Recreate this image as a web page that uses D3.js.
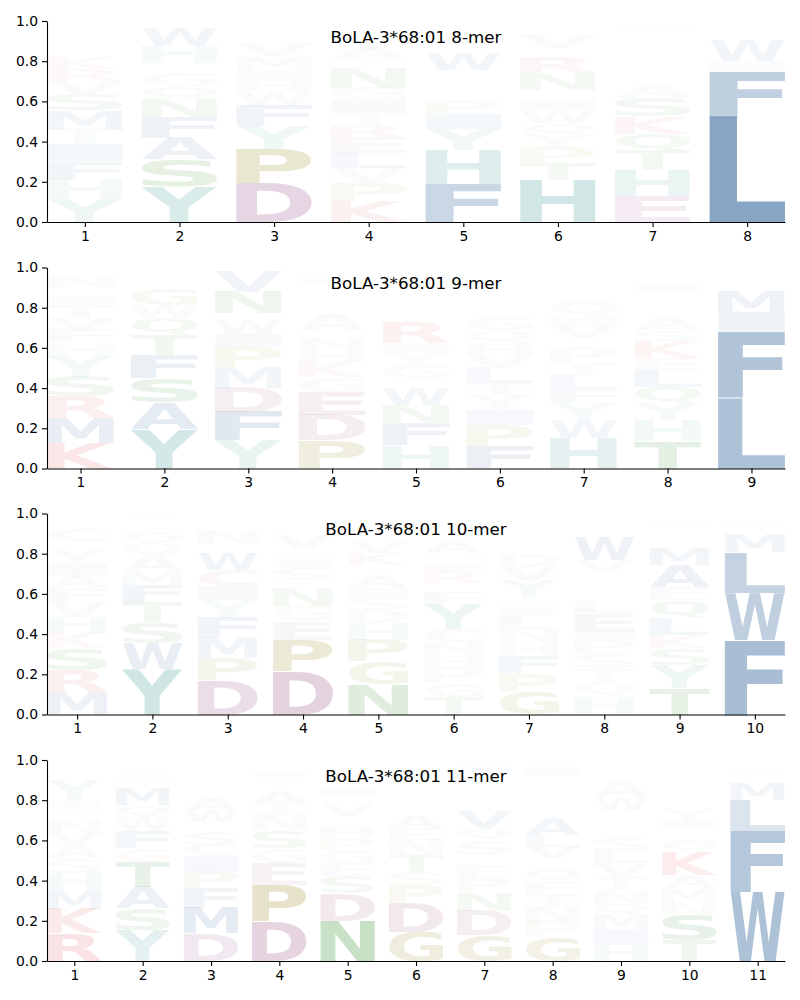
<!DOCTYPE html>
<html><head><meta charset="utf-8">
<script src="https://cdn.jsdelivr.net/npm/d3@7"></script>
<style>body{margin:0;background:#fff} svg{display:block}</style>
</head><body>
<svg id="chart" width="800" height="1000"></svg>
<script>
// ---------------- DATA ----------------
const titles = ["BoLA-3*68:01 8-mer","BoLA-3*68:01 9-mer","BoLA-3*68:01 10-mer","BoLA-3*68:01 11-mer"];
const yTicks = [0, 0.2, 0.4, 0.6, 0.8, 1.0];

// each position: letters from bottom to top with probability
const logo8 = [
 [["Y",.116],["H",.095],["F",.091],["I",.086],["T",.075],["M",.091],["S",.083],["V",.066],["R",.058],["K",.058],["A",.041],["W",.03],["E",.025],["N",.025],["Q",.02],["L",.02],["G",.012],["D",.01]],
 [["Y",.177],["S",.133],["A",.108],["F",.104],["N",.09],["Q",.063],["G",.066],["T",.05],["H",.09],["W",.083],["E",.015],["V",.012],["K",.01]],
 [["D",.194],["P",.169],["Y",.113],["F",.103],["W",.071],["H",.058],["I",.05],["M",.066],["V",.066],["L",.03],["A",.025],["N",.02],["E",.015],["S",.012],["T",.01]],
 [["K",.103],["P",.091],["V",.075],["L",.075],["E",.075],["R",.066],["T",.061],["I",.063],["G",.058],["N",.095],["D",.05],["A",.055],["Q",.03],["S",.03],["H",.025],["M",.02],["F",.016],["Y",.015]],
 [["F",.19],["H",.166],["Y",.106],["I",.076],["P",.07],["V",.05],["G",.05],["N",.05],["W",.083],["K",.03],["E",.03],["L",.025],["T",.02],["S",.02],["A",.018],["D",.018]],
 [["H",.207],["T",.086],["P",.08],["Y",.061],["Q",.058],["W",.066],["I",.053],["L",.046],["N",.083],["R",.075],["F",.05],["V",.066],["E",.02],["A",.015],["S",.015],["G",.02]],
 [["E",.128],["H",.129],["T",.095],["Q",.088],["K",.086],["S",.091],["A",.066],["V",.05],["R",.05],["L",.04],["W",.035],["N",.03],["M",.03],["G",.025],["D",.02],["I",.02],["P",.017]],
 [["L",.522],["F",.227],["I",.05],["W",.1],["M",.03],["V",.02],["Y",.015],["H",.01],["A",.01]]
];
const logo9 = [
 [["K",.128],["M",.121],["R",.108],["S",.1],["Y",.1],["H",.071],["F",.061],["V",.058],["T",.058],["I",.05],["A",.05],["N",.058],["W",.015],["Q",.012],["E",.01]],
 [["Y",.196],["A",.131],["S",.121],["F",.116],["T",.1],["Q",.083],["W",.066],["G",.083],["N",.042],["M",.02],["H",.015],["E",.015],["V",.012]],
 [["Y",.141],["F",.141],["D",.12],["M",.1],["P",.1],["I",.071],["W",.066],["L",.033],["N",.108],["V",.1],["T",.01],["H",.01]],
 [["P",.14],["D",.126],["E",.116],["G",.075],["K",.075],["H",.058],["N",.058],["T",.042],["A",.075],["Q",.05],["S",.04],["L",.035],["V",.03],["I",.025],["F",.02],["R",.02],["W",.017]],
 [["H",.116],["F",.108],["N",.091],["W",.083],["V",.05],["G",.066],["Y",.058],["I",.05],["R",.1],["T",.05],["A",.04],["K",.04],["L",.035],["E",.035],["S",.03],["Q",.025],["M",.023]],
 [["F",.113],["P",.103],["I",.075],["Y",.075],["T",.058],["L",.075],["V",.066],["H",.058],["Q",.066],["G",.066],["S",.045],["W",.04],["N",.04],["E",.035],["A",.03],["M",.03],["R",.025]],
 [["H",.153],["W",.088],["Y",.083],["F",.066],["L",.075],["T",.058],["P",.075],["E",.05],["V",.058],["I",.05],["Q",.075],["G",.04],["S",.035],["M",.035],["N",.03],["A",.03]],
 [["T",.136],["H",.105],["Y",.083],["Q",.083],["L",.083],["E",.058],["K",.086],["S",.055],["A",.066],["V",.045],["R",.04],["N",.04],["I",.035],["F",.03],["W",.03],["M",.025]],
 [["L",.35],["F",.325],["I",.105],["M",.105],["W",.05],["Y",.02],["V",.015],["A",.01],["H",.01]]
];
const logo10 = [
 [["M",.113],["R",.108],["S",.108],["K",.078],["H",.08],["V",.075],["F",.066],["A",.066],["I",.058],["Y",.066],["T",.042],["C",.058],["N",.025],["Q",.02],["L",.02],["E",.018]],
 [["Y",.225],["W",.13],["S",.103],["T",.096],["F",.091],["M",.066],["A",.075],["Q",.07],["G",.055],["N",.025],["E",.02],["H",.02],["V",.015],["I",.012]],
 [["D",.171],["P",.108],["M",.1],["F",.1],["Y",.091],["I",.07],["C",.08],["W",.083],["L",.05],["N",.066],["A",.03],["S",.02],["T",.018],["V",.015]],
 [["D",.213],["P",.158],["E",.091],["G",.078],["N",.088],["Q",.042],["S",.058],["I",.05],["T",.05],["V",.066],["H",.03],["A",.025],["L",.025],["K",.02]],
 [["N",.15],["G",.113],["P",.108],["H",.083],["D",.066],["S",.058],["I",.05],["A",.066],["T",.05],["K",.058],["V",.058],["E",.035],["Q",.03],["Y",.03],["L",.025],["F",.022]],
 [["T",.088],["G",.066],["P",.075],["H",.066],["N",.066],["C",.066],["Y",.125],["F",.058],["L",.042],["R",.058],["I",.042],["Q",.05],["A",.066],["S",.035],["E",.03],["V",.025],["D",.025],["W",.018]],
 [["G",.113],["P",.091],["F",.086],["H",.071],["N",.066],["L",.066],["I",.042],["Q",.05],["Y",.083],["V",.066],["D",.066],["E",.04],["S",.04],["A",.035],["C",.03],["T",.03],["M",.025]],
 [["H",.088],["Q",.075],["T",.066],["S",.075],["P",.066],["I",.042],["E",.091],["L",.058],["F",.05],["N",.05],["D",.05],["V",.058],["W",.116],["M",.03],["Y",.03],["A",.03],["K",.027]],
 [["T",.13],["Y",.116],["S",.083],["K",.066],["L",.083],["Q",.09],["E",.066],["A",.108],["M",.083],["V",.04],["F",.035],["H",.03],["I",.03],["N",.02],["R",.02]],
 [["F",.37],["W",.233],["L",.203],["M",.091],["Y",.033],["I",.02],["V",.015],["A",.01],["H",.01]]
];
const logo11 = [
 [["R",.138],["K",.12],["M",.091],["H",.088],["S",.075],["A",.066],["V",.066],["N",.058],["F",.05],["I",.042],["Y",.1],["T",.03],["L",.025],["W",.02],["E",.018],["Q",.015]],
 [["Y",.154],["S",.108],["A",.108],["T",.124],["G",.066],["F",.083],["W",.075],["Q",.058],["M",.083],["H",.035],["I",.03],["N",.03],["V",.025],["E",.021]],
 [["D",.138],["M",.128],["F",.096],["P",.083],["I",.075],["C",.058],["S",.066],["Y",.05],["W",.058],["A",.058],["V",.04],["L",.04],["T",.035],["N",.03],["H",.025],["E",.02]],
 [["D",.196],["P",.183],["E",.108],["G",.075],["S",.09],["N",.075],["T",.058],["A",.058],["Q",.035],["V",.035],["I",.03],["L",.03],["H",.027]],
 [["N",.2],["D",.135],["S",.086],["E",.066],["G",.066],["P",.058],["H",.058],["T",.05],["V",.058],["A",.05],["I",.04],["Q",.035],["K",.035],["L",.035],["Y",.029]],
 [["G",.146],["D",.141],["P",.091],["S",.066],["T",.083],["N",.075],["E",.058],["A",.058],["V",.05],["Q",.045],["K",.045],["H",.04],["I",.035],["Y",.035],["L",.032]],
 [["G",.13],["D",.121],["N",.091],["P",.07],["E",.066],["A",.05],["S",.075],["Q",.058],["V",.083],["K",.05],["C",.033],["T",.04],["L",.035],["H",.035],["I",.035],["Y",.03]],
 [["G",.121],["P",.075],["N",.075],["T",.058],["E",.066],["Q",.066],["Y",.05],["V",.058],["L",.058],["A",.083],["C",.045],["D",.045],["S",.045],["K",.04],["W",.04],["I",.04],["M",.035]],
 [["H",.08],["I",.075],["M",.075],["Q",.058],["N",.066],["T",.066],["V",.066],["L",.058],["S",.066],["C",.041],["E",.05],["G",.05],["W",.066],["A",.075],["Y",.03],["F",.03],["D",.025],["R",.023]],
 [["T",.104],["S",.124],["N",.066],["M",.066],["A",.066],["K",.116],["Q",.066],["H",.05],["I",.041],["Y",.058],["C",.04],["R",.04],["L",.04],["V",.04],["E",.04],["F",.04]],
 [["W",.343],["F",.303],["L",.154],["M",.083],["Y",.041],["I",.033],["V",.015],["A",.01]]
];
const logos = [logo8, logo9, logo10, logo11];

// ---------------- STYLE ----------------
const groupColor = {};
"AFILMVW".split("").forEach(c => groupColor[c] = "#4e79a7");
"HY".split("").forEach(c => groupColor[c] = "#76b7b2");
"DEC".split("").forEach(c => groupColor[c] = "#b07aa1");
"STNQ".split("").forEach(c => groupColor[c] = "#59a14f");
"KR".split("").forEach(c => groupColor[c] = "#e15759");
"PG".split("").forEach(c => groupColor[c] = "#a79b43");
const alphaOf = d3.scaleLinear()
  .domain([0, .05, .1, .15, .2, .35, .52])
  .range([0, .025, .08, .19, .33, .46, .67]).clamp(true);

const FONT = "'DejaVu Sans', 'Liberation Sans', sans-serif";
const ctx = document.createElement("canvas").getContext("2d");
ctx.font = "bold 100px 'DejaVu Sans'";
const metricCache = {};
function glyph(ch) {
  if (!metricCache[ch]) {
    const m = ctx.measureText(ch);
    metricCache[ch] = {l: m.actualBoundingBoxLeft, r: m.actualBoundingBoxRight,
                       a: m.actualBoundingBoxAscent, d: m.actualBoundingBoxDescent};
  }
  return metricCache[ch];
}

const svg = d3.select("#chart");
const left = 47, right = 785;
const tops = [21, 267.5, 513.5, 760];
const plotH = 201;

logos.forEach((logo, i) => {
  const n = logo.length;
  const top = tops[i], bottom = top + plotH;
  const x = d3.scaleLinear().domain([0.6, n + 0.4]).range([left, right]);
  const y = d3.scaleLinear().domain([0, 1]).range([bottom, top]);
  const g = svg.append("g");

  const letters = [];
  logo.forEach((col, j) => {
    let cum = 0;
    col.forEach(([ch, p]) => {
      letters.push({ch, p, pos: j + 1, y0: cum, y1: cum + p});
      cum += p;
    });
  });
  g.selectAll("text.letter").data(letters).join("text")
    .attr("class", "letter")
    .attr("font-family", FONT).attr("font-weight", "bold").attr("font-size", 100)
    .attr("fill", d => groupColor[d.ch])
    .attr("fill-opacity", d => alphaOf(d.p))
    .attr("transform", d => {
      const m = glyph(d.ch);
      const x0 = x(d.pos - 0.4), x1 = x(d.pos + 0.4);
      const yT = y(d.y1), yB = y(d.y0);
      const sx = (x1 - x0) / (m.l + m.r);
      const sy = (yB - yT) / (m.a + m.d);
      return `translate(${x0},${yT}) scale(${sx},${sy}) translate(${m.l},${m.a})`;
    })
    .text(d => d.ch);

  const yAxis = g.append("g").attr("transform", `translate(${left},0)`)
    .call(d3.axisLeft(y).tickValues(yTicks).tickFormat(d3.format(".1f")).tickSize(5).tickSizeOuter(0).tickPadding(4));
  const xAxis = g.append("g").attr("transform", `translate(0,${bottom})`)
    .call(d3.axisBottom(x).tickValues(d3.range(1, n + 1)).tickFormat(d3.format("d")).tickSize(5).tickSizeOuter(0).tickPadding(4));
  [yAxis, xAxis].forEach(a => {
    a.selectAll("text").attr("font-family", FONT).attr("font-size", 13.9).attr("fill", "#000");
    a.selectAll("line").attr("stroke", "#000").attr("stroke-width", 1.1);
    a.select(".domain").attr("stroke", "#000").attr("stroke-width", 1.1);
  });

  g.append("text").attr("x", (left + right) / 2).attr("y", top + 21.5)
    .attr("text-anchor", "middle").attr("font-family", FONT).attr("font-size", 16.7)
    .attr("fill", "#000").text(titles[i]);
});
</script>
</body></html>
